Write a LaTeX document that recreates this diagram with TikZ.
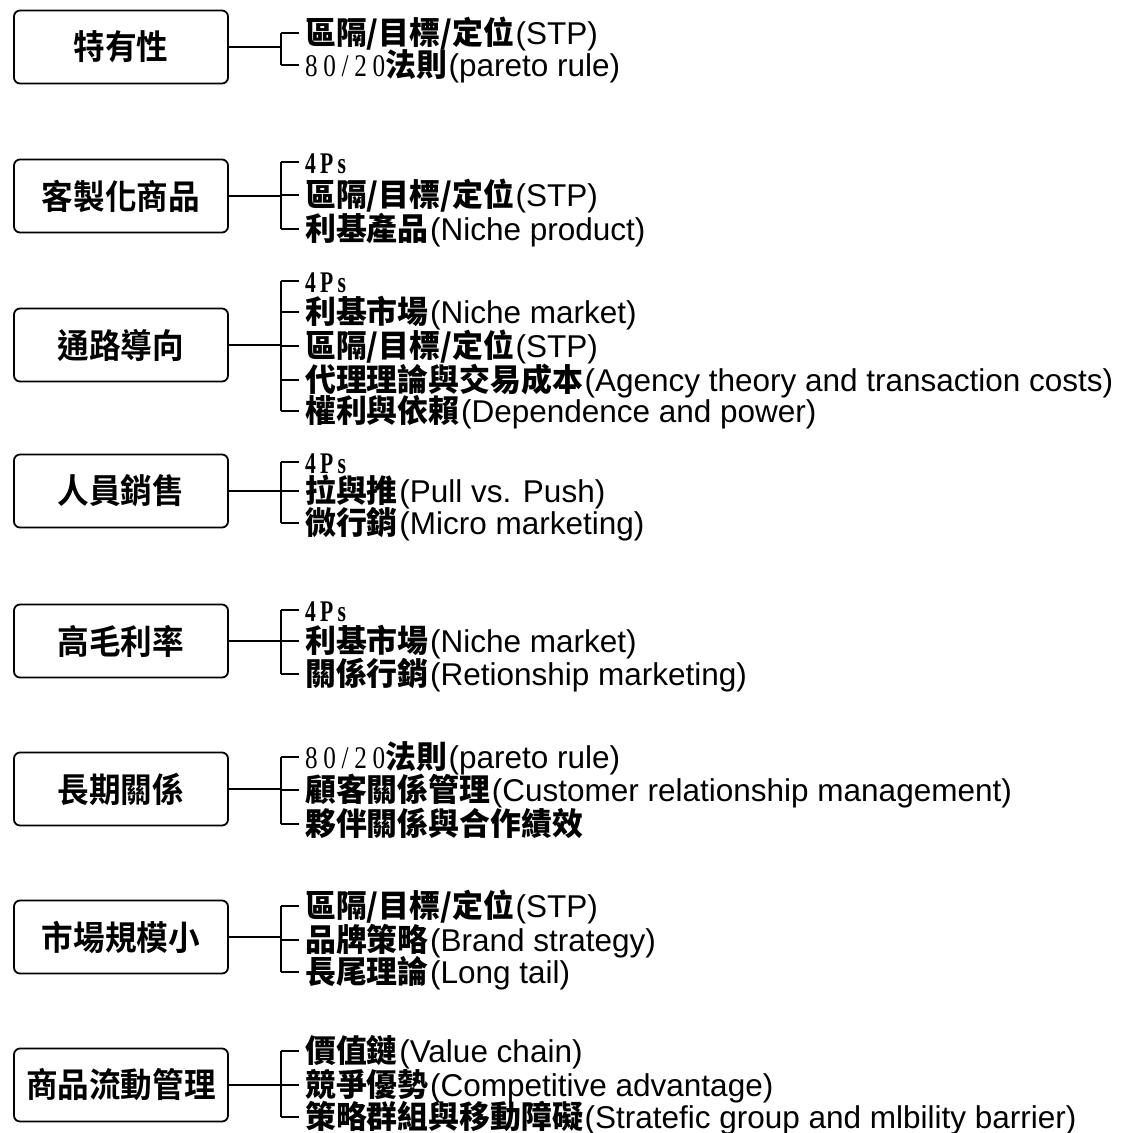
\documentclass[tikz,border=0pt]{standalone}
\usepackage{fontspec}
\setmainfont{Liberation Sans}
\newfontfamily\cjkb{Noto Sans CJK TC Black}[FakeStretch=0.98]
\newfontfamily\cjkl{Noto Sans CJK TC Bold}[FakeStretch=0.93]
\newfontfamily\numf{Liberation Serif}[FakeStretch=0.72,LetterSpace=14]
\newfontfamily\numr{Liberation Serif}[FakeStretch=0.8,LetterSpace=18]
\newcommand\zh[1]{{\cjkb #1}\hspace{1.5pt}}
\newcommand\nm[1]{{\numr #1}}
\newcommand\ps{{\fontsize{30}{31}\numf\bfseries 4Ps}}
\begin{document}
\begin{tikzpicture}[x=1pt,y=-1pt,
  topic/.style={draw,line width=1.8pt,rounded corners=6pt,minimum width=214pt,
    minimum height=73pt,inner sep=0pt,font=\fontsize{34}{36}\cjkl},
  item/.style={anchor=west,inner sep=0pt,text height=23pt,text depth=1pt,
    font=\fontsize{31.5}{33}\selectfont},
  link/.style={line width=1.6pt}]
\useasboundingbox (0,0) rectangle (1128,1133);
\fill[white] (0,0) rectangle (1128,1133);

% left-hand topics
\node[topic] (t1) at (121,47)   {特有性};
\node[topic] (t2) at (121,196)  {客製化商品};
\node[topic] (t3) at (121,345)  {通路導向};
\node[topic] (t4) at (121,491)  {人員銷售};
\node[topic] (t5) at (121,641)  {高毛利率};
\node[topic] (t6) at (121,789)  {長期關係};
\node[topic] (t7) at (121,937)  {市場規模小};
\node[topic] (t8) at (121,1085) {商品流動管理};

% related concepts
\node[item] (a1) at (305,33)  {\zh{區隔/目標/定位}(STP)};
\node[item] (a2) at (305,65)  {\nm{80/20}\zh{法則}(pareto rule)};

\node[item] (b1) at (305,162) {\ps};
\node[item] (b2) at (305,195) {\zh{區隔/目標/定位}(STP)};
\node[item] (b3) at (305,229) {\zh{利基產品}(Niche product)};

\node[item] (c1) at (305,281) {\ps};
\node[item] (c2) at (305,312) {\zh{利基市場}(Niche market)};
\node[item] (c3) at (305,346) {\zh{區隔/目標/定位}(STP)};
\node[item] (c4) at (305,380) {\zh{代理理論與交易成本}(Agency theory and transaction costs)};
\node[item] (c5) at (305,411) {\zh{權利與依賴}(Dependence and power)};

\node[item] (d1) at (305,462) {\ps};
\node[item] (d2) at (305,491) {\zh{拉與推}(Pull vs. Push)};
\node[item] (d3) at (305,523) {\zh{微行銷}(Micro marketing)};

\node[item] (e1) at (305,610) {\ps};
\node[item] (e2) at (305,641) {\zh{利基市場}(Niche market)};
\node[item] (e3) at (305,674) {\zh{關係行銷}(Retionship marketing)};

\node[item] (f1) at (305,757) {\nm{80/20}\zh{法則}(pareto rule)};
\node[item] (f2) at (305,790) {\zh{顧客關係管理}(Customer relationship management)};
\node[item] (f3) at (305,824) {\zh{夥伴關係與合作績效}};

\node[item] (g1) at (305,906) {\zh{區隔/目標/定位}(STP)};
\node[item] (g2) at (305,940) {\zh{品牌策略}(Brand strategy)};
\node[item] (g3) at (305,972) {\zh{長尾理論}(Long tail)};

\node[item] (h1) at (305,1051) {\zh{價值鏈}(Value chain)};
\node[item] (h2) at (305,1085) {\zh{競爭優勢}(Competitive advantage)};
\node[item] (h3) at (305,1117) {\zh{策略群組與移動障礙}(Stratefic group and mlbility barrier)};

% brackets: stem from the topic, spine, one tick per concept
\coordinate (sp) at (281,0);
\foreach \t/\g/\n in {t1/a/2,t2/b/3,t3/c/5,t4/d/3,t5/e/3,t6/f/3,t7/g/3,t8/h/3}{
  \draw[link] (\t.east) -- (sp |- \t.east);
  \draw[link] (sp |- \g1.west) -- (sp |- \g\n.west);
  \foreach \k in {1,...,\n}{
    \draw[link] (sp |- \g\k.west) -- ([xshift=-6pt]\g\k.west);
  }
}
\end{tikzpicture}
\end{document}
